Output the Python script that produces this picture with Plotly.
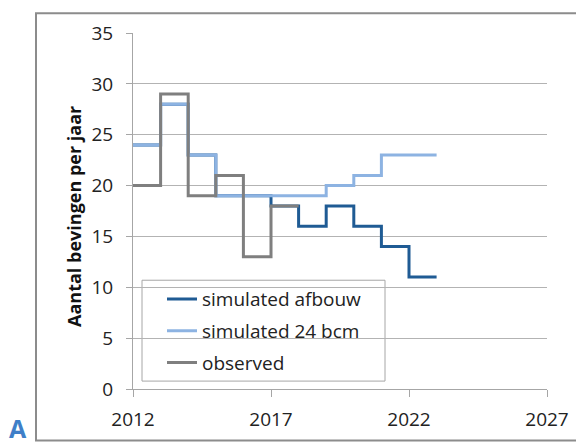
import plotly.graph_objects as go

# annual values (step per year), last segment ends one year later
years = [2012, 2013, 2014, 2015, 2016, 2017, 2018, 2019, 2020, 2021, 2022]
afbouw = [24, 28, 23, 19, 19, 18, 16, 18, 16, 14, 11]
bcm24 = [24, 28, 23, 19, 19, 19, 19, 20, 21, 23, 23]
obs_years = [2012, 2013, 2014, 2015, 2016, 2017]
observed = [20, 29, 19, 21, 13, 18]

x_ticks = [2012, 2017, 2022, 2027]
y_ticks = [0, 5, 10, 15, 20, 25, 30, 35]

FONT = "Open Sans"
# page has an 8px body margin, plot area should sit at 133..547 x 29..389 on the page
OFF = 8
PW, PH = 414, 360


def px(x):
    return (x - 133) / PW


def py(y):
    return (389 - y) / PH


def step(xs, ys):
    # extend last value to the end of its year
    return list(xs) + [xs[-1] + 1], list(ys) + [ys[-1]]


series = [
    ("simulated afbouw", years, afbouw, "#1f5b94"),
    ("simulated 24 bcm", years, bcm24, "#8db3e2"),
    ("observed", obs_years, observed, "#7f7f7f"),
]

fig = go.Figure()
for name, xs, ys, col in series:
    sx, sy = step(xs, ys)
    fig.add_trace(go.Scatter(
        x=sx, y=sy, name=name, mode="lines",
        line=dict(color=col, width=3, shape="hv"),
        legendgroup=name,
    ))

fig.update_layout(
    width=584 - OFF, height=444 - OFF,
    margin=dict(l=133 - OFF, r=37, t=29 - OFF, b=55),
    paper_bgcolor="white", plot_bgcolor="white",
    font=dict(family=FONT, size=19, color="#222"),
    legend=dict(
        x=px(162), y=py(279), xanchor="left", yanchor="top",
        bgcolor="rgba(0,0,0,0)", borderwidth=0,
        font=dict(size=19, color="#222"),
        tracegroupgap=4, traceorder="grouped",
    ),
    xaxis=dict(
        range=[2012, 2027], tickvals=x_ticks, showgrid=False,
        showline=True, linecolor="#a6a6a6", linewidth=1,
        ticks="outside", ticklen=7, tickcolor="#a6a6a6",
        ticklabelstandoff=6, zeroline=False,
    ),
    yaxis=dict(
        range=[0, 35], tickvals=y_ticks,
        showgrid=True, gridcolor="#b3b3b3", gridwidth=1,
        showline=True, linecolor="#a6a6a6", linewidth=1,
        ticks="outside", ticklen=6, tickcolor="#a6a6a6",
        ticklabelstandoff=9, zeroline=False,
    ),
    shapes=[
        # outer frame
        dict(type="rect", xref="paper", yref="paper",
             x0=px(36), x1=px(600), y0=py(441), y1=py(9),
             line=dict(color="#8c8c8c", width=2), fillcolor="rgba(0,0,0,0)", layer="below"),
        # legend frame
        dict(type="rect", xref="paper", yref="paper",
             x0=px(142), x1=px(385), y0=py(381), y1=py(279),
             line=dict(color="#a6a6a6", width=1), fillcolor="white", layer="between"),
    ],
    annotations=[
        dict(text="<b>Aantal bevingen per jaar</b>", xref="paper", yref="paper",
             x=px(74), y=py(215), xanchor="center", yanchor="middle",
             textangle=-90, showarrow=False,
             font=dict(size=18, color="#111", family=FONT)),
        dict(text="<b>A</b>", xref="paper", yref="paper", x=px(7), y=py(448),
             xanchor="left", yanchor="bottom", showarrow=False,
             font=dict(size=25, color="#3f7fc8", family=FONT)),
    ],
)

fig.write_html("out.html")
